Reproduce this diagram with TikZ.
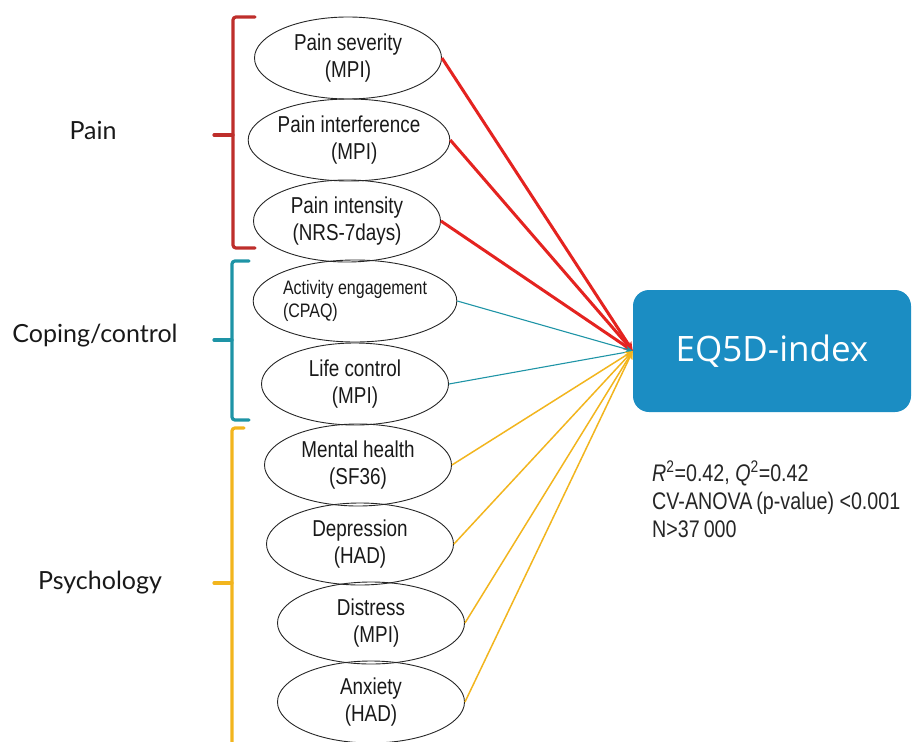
\documentclass[tikz,border=0pt]{standalone}
\usepackage{fontspec}
\setmainfont{Liberation Sans}
\newfontfamily\ellfont[FakeStretch=0.82]{Liberation Sans}
\newfontfamily\grpfont{Lato}
\newfontfamily\boxfont{Open Sans}
\usetikzlibrary{shapes.geometric,arrows.meta}
\definecolor{painred}{HTML}{E42320}
\definecolor{bracered}{HTML}{BE2E2B}
\definecolor{copeteal}{HTML}{1E94A6}
\definecolor{psyyellow}{HTML}{F2B51E}
\definecolor{eqblue}{HTML}{1B8DC3}
\begin{document}
\begin{tikzpicture}[x=1pt,y=-1pt,
  var/.style={ellipse,draw=black!85,line width=0.9pt,minimum width=187pt,
    minimum height=82pt,inner sep=0pt,align=center,text=black!90,
    font=\ellfont\fontsize{23}{27}\selectfont},
  smallvar/.style={var,align=left,font=\ellfont\fontsize{19.5}{23}\selectfont},
  grp/.style={font=\grpfont\fontsize{25}{28}\selectfont,text=black!90},
  brace/.style={line width=3.2pt,line cap=round,rounded corners=3pt},
  redlink/.style={painred,line width=3pt,-{Stealth[length=9pt,width=8pt]}},
  teallink/.style={copeteal,line width=1.1pt,-{Stealth[length=7pt,width=6pt]}},
  yellink/.style={psyyellow,line width=1.5pt,-{Stealth[length=8pt,width=7pt]}},
]
\useasboundingbox (0,0) rectangle (912,741);

% outcome box
\node[fill=eqblue,rounded corners=16pt,minimum width=278pt,minimum height=122pt,
  text=white,font=\boxfont\fontsize{35}{40}\selectfont] (eq) at (772,351) {EQ5D-index};

% predictors
\node[var] (sev) at (348,58) {Pain severity\\(MPI)};
\node[var] (intf) at (349,140) {Pain interference\\\ \ (MPI)};
\node[var] (ints) at (347,221) {Pain intensity\\(NRS-7days)};
\node[smallvar] (act) at (355,301) {Activity engagement\\(CPAQ)};
\node[var] (life) at (355,384) {Life control\\(MPI)};
\node[var] (ment) at (358,465) {Mental health\\(SF36)};
\node[var] (dep) at (360,544) {Depression\\(HAD)};
\node[var] (dis) at (371,623) {Distress\\\ \ (MPI)};
\node[var] (anx) at (371,702) {Anxiety\\(HAD)};

% links into the outcome
\draw[redlink] (sev.east) -- (eq.west);
\draw[redlink] (intf.east) -- (eq.west);
\draw[redlink] (ints.east) -- (eq.west);
\draw[teallink] (act.east) -- (eq.west);
\draw[teallink] (life.east) -- (eq.west);
\draw[yellink] (ment.east) -- (eq.west);
\draw[yellink] (dep.east) -- (eq.west);
\draw[yellink] (dis.east) -- (eq.west);
\draw[yellink] (anx.east) -- (eq.west);

% group brackets
\draw[brace,bracered] (255,17) -- (233,17) -- (233,248) -- (255,248);
\draw[brace,bracered] (214,135) -- (233,135);
\draw[brace,copeteal] (249,261) -- (232,261) -- (232,420) -- (249,420);
\draw[brace,copeteal] (214,340) -- (232,340);
\draw[brace,psyyellow] (244,428) -- (232,428) -- (232,745) -- (244,745);
\draw[brace,psyyellow] (214,583) -- (232,583);

% group labels
\node[grp] (gpain) at (93,130) {Pain};
\node[grp] (gcope) at (95,336) {Coping/control};
\node[grp] (gpsy) at (100,583) {Psychology};

% model statistics
\node[anchor=north west,align=left,inner sep=0pt,text=black!85,
  font=\ellfont\fontsize{24}{28}\selectfont] (stats) at (652,461)
  {{\itshape R}\textsuperscript{2}=0.42, {\itshape Q}\textsuperscript{2}=0.42\\
   CV-ANOVA\,(p-value) <0.001\\
   N>37\,000};
\end{tikzpicture}
\end{document}
